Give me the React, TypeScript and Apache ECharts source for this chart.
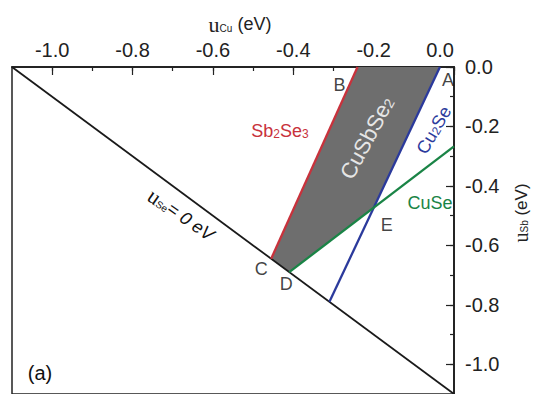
import React, { useEffect, useRef } from "react";
import * as echarts from "echarts";

const majorTicks = [-1.0, -0.8, -0.6, -0.4, -0.2, 0.0];
const axisMin = -1.1;
const axisMax = 0;

const regionX = [-0.24, -0.035, -0.2, -0.41, -0.455];
const regionY = [0, 0, -0.475, -0.69, -0.645];

const sb2se3X = [-0.24, -0.455];
const sb2se3Y = [0, -0.645];
const cu2seX = [-0.035, -0.31];
const cu2seY = [0, -0.79];
const cuseX = [-0.41, 0];
const cuseY = [-0.69, -0.267];
const seZeroX = [-1.1, 0];
const seZeroY = [0, -1.1];

const pointNames = ["A", "B", "C", "D", "E"];
const pointX = [-0.035, -0.24, -0.455, -0.41, -0.2];
const pointY = [0, 0, -0.645, -0.69, -0.475];
const pointOffsets = [
  [8, 13],
  [-18, 18],
  [-10, 10],
  [-3, 12],
  [13, 17],
];

const RED = "#c8323c";
const BLUE = "#2b3a9c";
const GREEN = "#1a8446";
const FONT = "Liberation Sans, Arial, sans-serif";

const pairs = (xs: number[], ys: number[]) => xs.map((x, i) => [x, ys[i]]);

export default function App() {
  const ref = useRef<HTMLDivElement>(null);
  useEffect(() => {
    if (!ref.current) return;
    const chart = echarts.init(ref.current, null, { renderer: "svg" });
    const fmt = (v: number) => {
      const k = Math.round(v * 10);
      return majorTicks.some((m) => Math.round(m * 10) === k) ? v.toFixed(1) : "";
    };
    const baseAxis = {
      type: "value",
      min: axisMin,
      max: axisMax,
      splitLine: { show: false },
      axisLine: { show: true, lineStyle: { color: "#222", width: 1.5 } },
    };
    const labelStyle = {
      show: true,
      formatter: fmt,
      fontSize: 20,
      fontFamily: FONT,
      color: "#222",
      showMinLabel: false,
    };
    const lineSeries = (xs: number[], ys: number[], color: string, w = 2.3) => ({
      type: "line",
      data: pairs(xs, ys),
      symbol: "none",
      lineStyle: { color, width: w },
      z: 3,
    });
    chart.setOption({
      animation: false,
      grid: {
        left: 12,
        top: 67,
        width: 442,
        height: 330,
        show: true,
        borderColor: "#222",
        borderWidth: 1.5,
      },
      xAxis: [
        {
          ...baseAxis,
          position: "top",
          interval: 0.1,
          axisTick: { show: true, inside: true, length: 4, lineStyle: { color: "#222", width: 1.2 } },
          axisLabel: { ...labelStyle, margin: 7, alignMaxLabel: "right" },
        },
        {
          ...baseAxis,
          position: "top",
          axisTick: {
            show: true,
            inside: true,
            length: 8,
            customValues: majorTicks,
            lineStyle: { color: "#222", width: 1.2 },
          },
          axisLabel: { show: false },
        },
      ],
      yAxis: [
        {
          ...baseAxis,
          position: "right",
          interval: 0.1,
          axisTick: { show: true, inside: true, length: 4, lineStyle: { color: "#222", width: 1.2 } },
          axisLabel: { ...labelStyle, margin: 11 },
        },
        {
          ...baseAxis,
          position: "right",
          axisTick: {
            show: true,
            inside: true,
            length: 8,
            customValues: majorTicks,
            lineStyle: { color: "#222", width: 1.2 },
          },
          axisLabel: { show: false },
        },
      ],
      series: [
        {
          type: "custom",
          data: [0],
          z: 2,
          renderItem: (_params: any, api: any) => ({
            type: "polygon",
            shape: { points: regionX.map((x, i) => api.coord([x, regionY[i]])) },
            style: { fill: "#6e6e6e", stroke: "none" },
          }),
        },
        lineSeries(seZeroX, seZeroY, "#1a1a1a", 1.8),
        lineSeries(sb2se3X, sb2se3Y, RED),
        lineSeries(cu2seX, cu2seY, BLUE),
        lineSeries(cuseX, cuseY, GREEN),
        {
          type: "scatter",
          symbolSize: 0,
          z: 5,
          data: pointNames.map((n, i) => ({
            value: [pointX[i], pointY[i]],
            name: n,
            label: { offset: pointOffsets[i] },
          })),
          label: {
            show: true,
            position: "inside",
            formatter: (p: any) => p.name,
            fontSize: 18,
            fontFamily: FONT,
            color: "#111",
          },
        },
      ],
      graphic: [
        {
          type: "text",
          x: 240,
          y: 24,
          z: 100,
          style: {
            text: "{u|u}{s|Cu}{t| (eV)}",
            align: "center",
            verticalAlign: "middle",
            rich: {
              u: { fontSize: 22, fontFamily: "Liberation Serif, serif", fill: "#222" },
              s: { fontSize: 10, fontFamily: FONT, fill: "#222", padding: [8, 0, 0, 0] },
              t: { fontSize: 18, fontFamily: FONT, fill: "#222" },
            },
          },
        },
        {
          type: "text",
          x: 521,
          y: 213,
          z: 100,
          rotation: Math.PI / 2,
          style: {
            text: "{u|u}{s|Sb}{t| (eV)}",
            align: "center",
            verticalAlign: "middle",
            rich: {
              u: { fontSize: 20, fontFamily: "Liberation Serif, serif", fill: "#222" },
              s: { fontSize: 10, fontFamily: FONT, fill: "#222", padding: [7, 0, 0, 0] },
              t: { fontSize: 17, fontFamily: FONT, fill: "#222" },
            },
          },
        },
        {
          type: "text",
          x: 280,
          y: 131,
          z: 100,
          style: {
            text: "{m|Sb}{s|2}{m|Se}{s|3}",
            align: "center",
            verticalAlign: "middle",
            rich: {
              m: { fontSize: 18, fontFamily: FONT, fill: RED },
              s: { fontSize: 12, fontFamily: FONT, fill: RED, padding: [5, 0, 0, 0] },
            },
          },
        },
        {
          type: "text",
          x: 367,
          y: 138,
          z: 100,
          rotation: (62 * Math.PI) / 180,
          style: {
            text: "{m|CuSbSe}{s|2}",
            align: "center",
            verticalAlign: "middle",
            rich: {
              m: { fontSize: 22, fontFamily: FONT, fill: "#e6e6e6" },
              s: { fontSize: 14, fontFamily: FONT, fill: "#e6e6e6", padding: [6, 0, 0, 0] },
            },
          },
        },
        {
          type: "text",
          x: 434,
          y: 130,
          z: 100,
          rotation: (60 * Math.PI) / 180,
          style: {
            text: "{m|Cu}{s|2}{m|Se}",
            align: "center",
            verticalAlign: "middle",
            rich: {
              m: { fontSize: 18, fontFamily: FONT, fill: BLUE },
              s: { fontSize: 12, fontFamily: FONT, fill: BLUE, padding: [5, 0, 0, 0] },
            },
          },
        },
        {
          type: "text",
          x: 430,
          y: 203,
          z: 100,
          style: {
            text: "CuSe",
            align: "center",
            verticalAlign: "middle",
            fontSize: 18,
            fontFamily: FONT,
            fill: GREEN,
          },
        },
        {
          type: "text",
          x: 181,
          y: 215,
          z: 100,
          rotation: (-35 * Math.PI) / 180,
          style: {
            text: "{u|u}{s|Se}{t|= 0 eV}",
            align: "center",
            verticalAlign: "middle",
            rich: {
              u: { fontSize: 22, fontFamily: "Liberation Serif, serif", fill: "#111" },
              s: { fontSize: 10, fontFamily: FONT, fill: "#111", padding: [8, 0, 0, 0] },
              t: { fontSize: 18, fontFamily: FONT, fontStyle: "italic", fill: "#111" },
            },
          },
        },
        {
          type: "text",
          x: 40,
          y: 373,
          z: 100,
          style: {
            text: "(a)",
            align: "center",
            verticalAlign: "middle",
            fontSize: 20,
            fontFamily: FONT,
            fill: "#111",
          },
        },
      ],
    });
    return () => chart.dispose();
  }, []);
  return (
    <div
      ref={ref}
      style={{ position: "fixed", left: 0, top: 0, width: 535, height: 394, background: "#fff" }}
    />
  );
}
